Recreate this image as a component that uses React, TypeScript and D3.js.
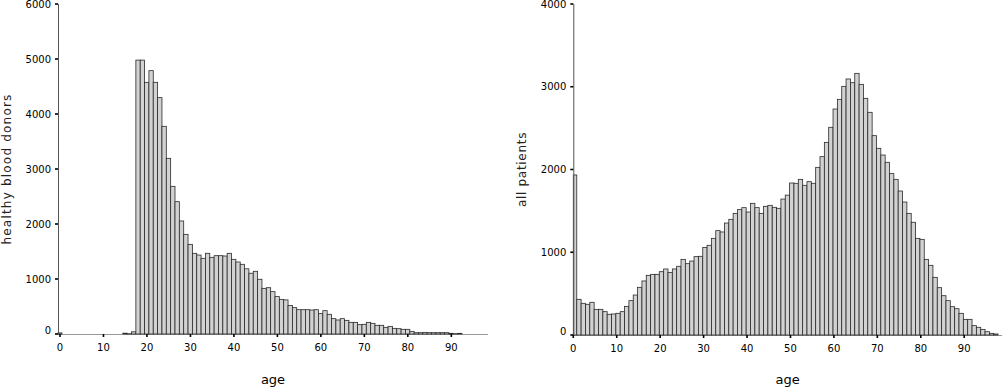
import React from "react";
import * as d3 from "d3";

const donorAges: number[] = d3.range(0, 99);
const donorCounts: number[] = [
  20, 0, 0, 0, 0, 0, 0, 0, 0, 0,
  0, 0, 0, 0, 0, 15, 5, 40, 4980, 4980,
  4576, 4788, 4576, 4297, 3776, 3194, 2685, 2406, 2055, 1812,
  1630, 1467, 1436, 1376, 1467, 1394, 1424, 1424, 1418, 1467,
  1358, 1309, 1267, 1185, 1105, 1140, 995, 830, 842, 770,
  680, 630, 620, 518, 479, 442, 442, 442, 436, 442,
  370, 424, 358, 279, 255, 279, 248, 212, 212, 170,
  176, 212, 194, 158, 158, 121, 139, 103, 97, 85,
  85, 48, 24, 24, 30, 24, 24, 24, 24, 24,
  12, 6, 12, 0, 0, 0, 0, 0, 0,
];

const patientAges: number[] = d3.range(0, 98);
const patientCounts: number[] = [
  1934, 431, 383, 371, 395, 310, 310, 282, 250, 254,
  262, 282, 346, 415, 483, 576, 653, 721, 733, 733,
  765, 798, 757, 798, 830, 914, 862, 894, 947, 951,
  1059, 1084, 1168, 1261, 1245, 1353, 1398, 1470, 1515, 1539,
  1486, 1591, 1539, 1470, 1555, 1567, 1543, 1531, 1643, 1690,
  1837, 1833, 1881, 1809, 1853, 1833, 2026, 2155, 2328, 2510,
  2731, 2848, 3005, 3094, 3049, 3162, 3029, 2860, 2691, 2409,
  2256, 2175, 2087, 1950, 1881, 1740, 1607, 1470, 1362, 1168,
  1156, 914, 842, 697, 572, 475, 415, 342, 318, 262,
  189, 189, 113, 93, 68, 40, 20, 12,
];

const xTicks: number[] = [0, 10, 20, 30, 40, 50, 60, 70, 80, 90];
const donorYTicks: number[] = [0, 1000, 2000, 3000, 4000, 5000, 6000];
const patientYTicks: number[] = [0, 1000, 2000, 3000, 4000];

const FONT = "'DejaVu Sans', Verdana, sans-serif";

type PanelProps = {
  ages: number[];
  counts: number[];
  xDomain: [number, number];
  xRange: [number, number];
  yMax: number;
  yRange: [number, number];
  yTicks: number[];
  binOffset: number;
  yLabel: string;
  yLabelX: number;
  yLabelSpacing: number;
};

function Panel(p: PanelProps) {
  const x = d3.scaleLinear().domain(p.xDomain).range(p.xRange);
  const y = d3.scaleLinear().domain([0, p.yMax]).range(p.yRange);
  const y0 = y(0);
  const axisX = p.xRange[0];
  const midY = (p.yRange[0] + p.yRange[1]) / 2;
  const midX = (p.xRange[0] + p.xRange[1]) / 2;
  return (
    <g>
      <line x1={p.xRange[0]} x2={p.xRange[1]} y1={y0 + 0.5} y2={y0 + 0.5} stroke="#999" strokeWidth={1} />
      {p.ages.map((a, i) => {
        const v = p.counts[i];
        if (!v) return null;
        const x0 = Math.max(p.xDomain[0], a + p.binOffset);
        const x1 = a + p.binOffset + 1;
        const left = x(x0);
        const right = x(x1);
        return (
          <rect
            key={a}
            x={left}
            y={y(v)}
            width={right - left}
            height={y0 - y(v)}
            fill="#d2d2d2"
            stroke="#2a2a2a"
            strokeWidth={0.8}
          />
        );
      })}
      <line x1={axisX + 0.5} x2={axisX + 0.5} y1={p.yRange[1]} y2={y0 + 1} stroke="#555" strokeWidth={1} />
      {p.yTicks.map((t) => (
        <g key={t}>
          <line x1={axisX - 3} x2={axisX} y1={y(t)} y2={y(t)} stroke="#000" strokeWidth={1.6} />
          <text
            x={axisX - 7}
            y={y(t) - (t === 0 ? 4 : 0)}
            dy="0.36em"
            textAnchor="end"
            fontSize={10}
            fontFamily={FONT}
            fill="#000"
          >
            {t}
          </text>
        </g>
      ))}
      {xTicks.map((t) => (
        <g key={t}>
          <line x1={x(t)} x2={x(t)} y1={y0} y2={y0 + 3} stroke="#000" strokeWidth={1.6} />
          <text x={x(t)} y={y0 + 17} textAnchor="middle" fontSize={10} fontFamily={FONT} fill="#000">
            {t}
          </text>
        </g>
      ))}
      <text x={midX} y={384} textAnchor="middle" fontSize={13} fontFamily={FONT} fill="#000">
        age
      </text>
      <text
        transform={`translate(${p.yLabelX},${midY}) rotate(-90)`}
        textAnchor="middle"
        fontSize={12}
        fontFamily={FONT}
        letterSpacing={p.yLabelSpacing}
        fill="#222"
      >
        {p.yLabel}
      </text>
    </g>
  );
}

export default function App() {
  return (
    <svg
      width={1002}
      height={388}
      style={{ position: "absolute", left: 0, top: 0, background: "#fff" }}
    >
      <Panel
        ages={donorAges}
        counts={donorCounts}
        xDomain={[-0.46, 98.44]}
        xRange={[58, 488]}
        yMax={6000}
        yRange={[334, 4]}
        yTicks={donorYTicks}
        binOffset={-0.55}
        yLabel="healthy blood donors"
        yLabelX={11}
        yLabelSpacing={1.2}
      />
      <Panel
        ages={patientAges}
        counts={patientCounts}
        xDomain={[0, 98.7]}
        xRange={[573.3, 1002]}
        yMax={4000}
        yRange={[335, 4]}
        yTicks={patientYTicks}
        binOffset={-0.2}
        yLabel="all patients"
        yLabelX={526}
        yLabelSpacing={0.7}
      />
    </svg>
  );
}
